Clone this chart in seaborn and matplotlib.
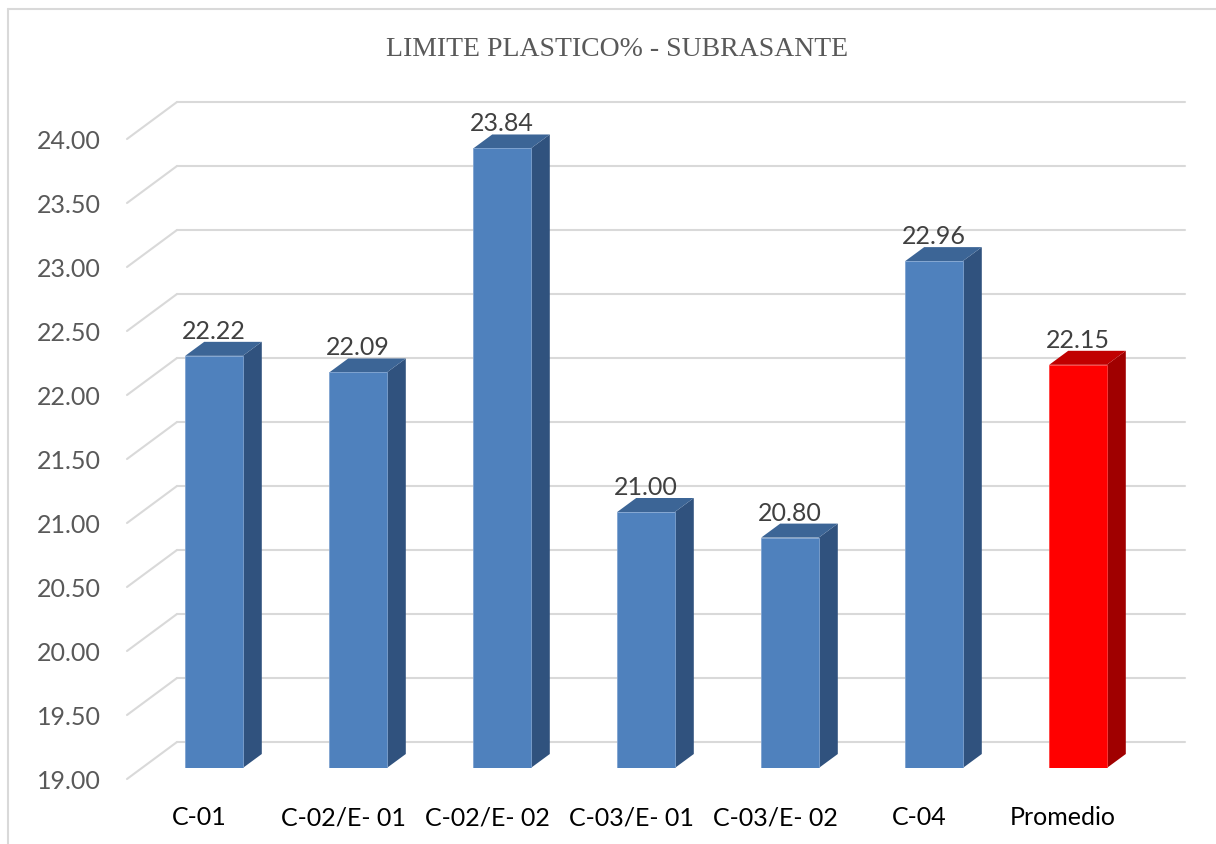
import matplotlib
matplotlib.use("Agg")
import matplotlib.pyplot as plt
import seaborn as sns
import pandas as pd
from matplotlib.patches import Polygon
from matplotlib.lines import Line2D
from matplotlib.transforms import ScaledTranslation

# Data
categories = ["C-01", "C-02/E- 01", "C-02/E- 02", "C-03/E- 01", "C-03/E- 02", "C-04", "Promedio"]
values = [22.22, 22.09, 23.84, 21.00, 20.80, 22.96, 22.15]
y_ticks = [19.00, 19.50, 20.00, 20.50, 21.00, 21.50, 22.00, 22.50, 23.00, 23.50, 24.00]
title = "LIMITE PLASTICO% - SUBRASANTE"

# Face colours of the pseudo-3D columns (front, side, top)
front_colors = ["#4F81BD"] * 6 + ["#FF0000"]
side_colors = ["#30527E"] * 6 + ["#A00000"]
top_colors = ["#3C6596"] * 6 + ["#C00000"]

sns.set_theme(style="white")
plt.rcParams["font.family"] = ["Lato", "DejaVu Sans"]

W, H, DPI = 1216, 845, 100
fig = plt.figure(figsize=(W / DPI, H / DPI), dpi=DPI)
ax = fig.add_axes([142 / W, (H - 769) / H, 1008 / W, 640 / H])

df = pd.DataFrame({"muestra": categories, "valor": values})
sns.barplot(data=df, x="muestra", y="valor", hue="muestra", palette=front_colors,
            width=0.40, saturation=1, legend=False, ax=ax, zorder=4,
            linewidth=0.6, edgecolor="#7FA3D0")

ax.set_xlim(-0.5, len(categories) - 0.5)
ax.set_ylim(y_ticks[0], y_ticks[-1])

# pixel -> data unit conversion
p0 = ax.transData.transform((0, 19))
p1 = ax.transData.transform((1, 20))
ppx, ppy = p1[0] - p0[0], p1[1] - p0[1]

def dx(px):
    return px / ppx

def dy(px):
    return px / ppy

# back wall / front plane / column depth offsets (pixels)
back_off = (dx(35), dy(26))
front_off = (dx(-15), dy(-11))
depth = (dx(19), dy(14))

grid_col = "#D9D9D9"
x_lo, x_hi = -0.5, len(categories) - 0.5
for v in y_ticks:
    ax.add_line(Line2D([x_lo + back_off[0], x_hi + back_off[0]],
                       [v + back_off[1], v + back_off[1]],
                       color=grid_col, lw=1.5, zorder=1, clip_on=False))
    ax.add_line(Line2D([x_lo + front_off[0], x_lo + back_off[0]],
                       [v + front_off[1], v + back_off[1]],
                       color=grid_col, lw=1.5, zorder=1, clip_on=False))

# the average column gets a red outline instead of the blue one
ax.patches[-1].set_edgecolor("#FF4040")

# side and top faces of each column
half = 0.20
base = y_ticks[0]
for i, v in enumerate(values):
    xl, xr = i - half, i + half
    side = Polygon([(xr, base), (xr, v), (xr + depth[0], v + depth[1]),
                    (xr + depth[0], base + depth[1])], closed=True,
                   facecolor=side_colors[i], edgecolor="none", zorder=3, clip_on=False)
    top = Polygon([(xl, v), (xr, v), (xr + depth[0], v + depth[1]),
                   (xl + depth[0], v + depth[1])], closed=True,
                  facecolor=top_colors[i], edgecolor="none", zorder=3, clip_on=False)
    ax.add_patch(side)
    ax.add_patch(top)
    ax.annotate(f"{v:.2f}", (i, v), xytext=(0, 18), textcoords="offset pixels",
                ha="center", va="baseline", fontsize=18, color="#404040")

# axes styling
for s in ax.spines.values():
    s.set_visible(False)
ax.set_xlabel("")
ax.set_ylabel("")
ax.set_yticks(y_ticks)
ax.set_yticklabels([f"{t:.2f}" for t in y_ticks])
ax.tick_params(axis="y", length=0, pad=29.5, labelsize=18, labelcolor="#595959")
ax.tick_params(axis="x", length=0, pad=27, labelsize=18, labelcolor="#000000")
ax.set_xticks(range(len(categories)))
ax.set_xticklabels(categories)
ax.grid(False)

shift_y = ScaledTranslation(0, -11 / DPI, fig.dpi_scale_trans)
for lab in ax.get_yticklabels():
    lab.set_transform(lab.get_transform() + shift_y)
shift_x = ScaledTranslation(-15 / DPI, 0, fig.dpi_scale_trans)
for lab in ax.get_xticklabels():
    lab.set_transform(lab.get_transform() + shift_x)

# title
fig.text(617 / W, 1 - 56 / H, title, ha="center", va="baseline",
         family="Liberation Serif", fontsize=20, color="#595959")

# chart-area border
fig.add_artist(Line2D([8 / W, 8 / W], [0, 1 - 10 / H], transform=fig.transFigure,
                      color=grid_col, lw=1.5))
fig.add_artist(Line2D([8 / W, 1], [1 - 10 / H, 1 - 10 / H], transform=fig.transFigure,
                      color=grid_col, lw=1.5))

fig.savefig("out.png", dpi=DPI, facecolor="white")
